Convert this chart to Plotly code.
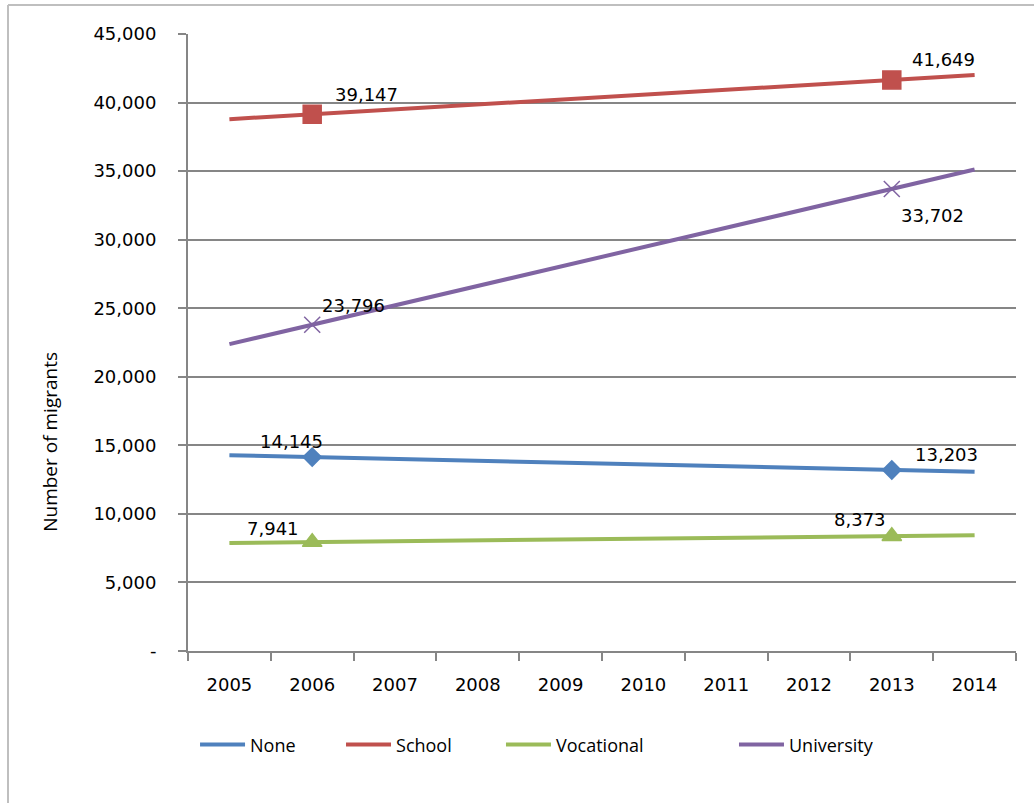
import plotly.graph_objects as go

years = ["2005", "2006", "2007", "2008", "2009", "2010", "2011", "2012", "2013", "2014"]

none_vals = [14280, 14145, 14010, 13875, 13740, 13605, 13470, 13335, 13203, 13070]
school_vals = [38790, 39147, 39505, 39862, 40220, 40577, 40934, 41292, 41649, 42005]
vocational_vals = [7880, 7941, 8003, 8065, 8126, 8188, 8250, 8311, 8373, 8435]
university_vals = [22380, 23796, 25211, 26626, 28041, 29456, 30872, 32287, 33702, 35117]

labelled_years = ["2006", "2013"]

y_ticks = [0, 5000, 10000, 15000, 20000, 25000, 30000, 35000, 40000, 45000]
y_tick_text = ["-", "5,000", "10,000", "15,000", "20,000", "25,000", "30,000", "35,000", "40,000", "45,000"]

series = [
    # name, values, colour, marker, marker size, label shifts (px) for 2006 / 2013, legend id, legend x
    ("None", none_vals, "#4F81BD", "diamond", 14, [(-21, 16), (55, 15)], "legend", 0.0085),
    ("School", school_vals, "#C0504D", "square", 18, [(54, 20), (52, 20)], "legend2", 0.1848),
    ("Vocational", vocational_vals, "#9BBB59", "triangle-up", 17, [(-39, 14), (-32, 17)], "legend3", 0.378),
    ("University", university_vals, "#8064A2", "x-thin", 16, [(41, 19), (41, -27)], "legend4", 0.6594),
]

TICK_FONT = dict(family="DejaVu Sans", size=18, color="#000000")
LABEL_FONT = dict(family="DejaVu Sans", size=18, color="#000000")
LEGEND_FONT = dict(family="Open Sans", size=18, color="#000000")

fig = go.Figure()
legends = {}
annotations = []

for name, vals, colour, symbol, msize, shifts, leg, leg_x in series:
    fig.add_trace(go.Scatter(
        x=years, y=vals, mode="lines", name=name, legend=leg,
        line=dict(color=colour, width=4),
    ))
    idx = [years.index(y) for y in labelled_years]
    ys = [vals[i] for i in idx]
    fig.add_trace(go.Scatter(
        x=labelled_years, y=ys, mode="markers", showlegend=False,
        marker=dict(symbol=symbol, size=msize, color=colour,
                    line=dict(color=colour, width=1.5)),
    ))
    # data labels, placed via the category index on the x axis
    for i, v, (dx, dy) in zip(idx, ys, shifts):
        annotations.append(dict(
            x=i, y=v, xref="x", yref="y", text=f"{v:,}", showarrow=False,
            xshift=dx, yshift=dy, font=LABEL_FONT,
        ))
    legends[leg] = dict(orientation="h", x=leg_x, xanchor="left", y=-0.152, yanchor="middle",
                        font=LEGEND_FONT, itemwidth=45, bgcolor="rgba(0,0,0,0)")

annotations.append(dict(
    text="Number of migrants", textangle=-90, showarrow=False,
    xref="paper", yref="paper", x=-0.1667, y=0.339, xanchor="center", yanchor="middle",
    font=dict(family="Open Sans", size=19, color="#000000"),
))

fig.update_layout(
    width=1034, height=803,
    margin=dict(l=188, r=18, t=34, b=152),
    paper_bgcolor="white", plot_bgcolor="white",
    showlegend=True,
    font=dict(family="DejaVu Sans"),
    xaxis=dict(
        type="category", showgrid=False, showline=True, linecolor="#868686", linewidth=2,
        ticks="outside", tickson="boundaries", ticklen=8, tickcolor="#868686", tickwidth=2,
        tickfont=TICK_FONT, ticklabelstandoff=16, range=[-0.5, 9.5], automargin=False,
    ),
    yaxis=dict(
        range=[0, 45000], tickvals=y_ticks, ticktext=y_tick_text,
        showgrid=True, gridcolor="#868686", gridwidth=2,
        showline=True, linecolor="#868686", linewidth=2,
        ticks="outside", ticklen=8, tickcolor="#868686", tickwidth=2,
        tickfont=TICK_FONT, ticklabelstandoff=18, zeroline=False, automargin=False,
    ),
    annotations=annotations,
    shapes=[
        dict(type="line", xref="paper", yref="paper", x0=-0.2174, x1=1.03, y0=1.047, y1=1.047,
             line=dict(color="#BFBFBF", width=2)),
        dict(type="line", xref="paper", yref="paper", x0=-0.2174, x1=-0.2174, y0=1.047, y1=-0.26,
             line=dict(color="#BFBFBF", width=2)),
    ],
    **legends,
)

fig.write_html("out.html", config={"displayModeBar": False},
               post_script="document.body.style.margin='0';")
